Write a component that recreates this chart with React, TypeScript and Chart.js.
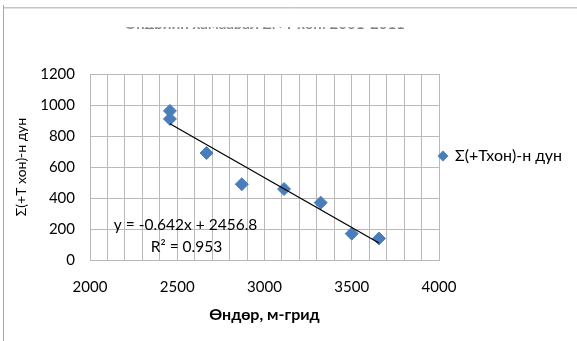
import React, { useEffect, useRef } from "react";
import { Chart, registerables } from "chart.js";

Chart.register(...registerables);

// ---- data ----
const elevation = [2458, 2458, 2668, 2870, 3112, 3322, 3500, 3656];
const sumTemp = [962, 910, 690, 489, 458, 370, 170, 139];
const xLabelTicks = [2000, 2500, 3000, 3500, 4000];
const yTickStep = 200;
const trendSlope = [-0.642];
const trendIntercept = [2456.8];
const rSquared = [0.953];
const seriesName = "Σ(+Тхон)-н дун";
const yAxisTitle = "Σ(+Т хон)-н дун";
const xAxisTitle = "Өндөр, м-грид";
const chartTitle = "Өндрийн хамаарал Σ(+Т хон) 2001-2011";

const FONT = "Lato, 'Open Sans', 'Noto Sans', sans-serif";
const BLUE = "#4A7EBB";
const GRID = "#b9b9b9";

export default function App() {
  const ref = useRef<HTMLCanvasElement | null>(null);

  useEffect(() => {
    const canvas = ref.current;
    if (!canvas) return;
    const xMin = Math.min(...elevation);
    const xMax = Math.max(...elevation);
    const trendPts = [xMin, xMax].map((x) => ({ x, y: trendSlope[0] * x + trendIntercept[0] }));

    const overlay = {
      id: "overlay",
      afterDraw(chart: any) {
        const ctx = chart.ctx as CanvasRenderingContext2D;
        const area = chart.chartArea;
        ctx.save();

        // title, mostly hidden: only the very bottom of the glyphs remains visible
        ctx.fillStyle = "#000";
        ctx.font = `bold 15px ${FONT}`;
        ctx.textAlign = "center";
        ctx.textBaseline = "alphabetic";
        ctx.fillText(chartTitle, (area.left + area.right) / 2, 28.5);
        ctx.fillStyle = "#fff";
        ctx.fillRect(0, 9, 577, 18.6);
        ctx.fillRect(0, 28.5, 577, 6);

        // frame lines (edge of the Excel chart object)
        ctx.strokeStyle = "#c4c4c4";
        ctx.lineWidth = 1;
        ctx.beginPath();
        ctx.moveTo(4, 7.5);
        ctx.lineTo(577, 7.5);
        ctx.stroke();
        ctx.strokeStyle = "#e2e2e2";
        ctx.beginPath();
        ctx.moveTo(4, 8.5);
        ctx.lineTo(577, 8.5);
        ctx.stroke();
        ctx.strokeStyle = "#93a9c9";
        ctx.beginPath();
        ctx.moveTo(3.5, 5);
        ctx.lineTo(3.5, 341);
        ctx.stroke();

        // trendline equation
        ctx.fillStyle = "#000";
        ctx.font = `15.5px ${FONT}`;
        ctx.textAlign = "center";
        ctx.textBaseline = "middle";
        const eq = `y = ${trendSlope[0]}x + ${trendIntercept[0]}`;
        ctx.fillText(eq, 185.5, 225);
        ctx.fillText(`R² = ${rSquared[0]}`, 186.5, 247);

        // legend
        ctx.fillStyle = BLUE;
        const lx = 443, ly = 156, r = 5.5;
        ctx.beginPath();
        ctx.moveTo(lx, ly - r);
        ctx.lineTo(lx + r, ly);
        ctx.lineTo(lx, ly + r);
        ctx.lineTo(lx - r, ly);
        ctx.closePath();
        ctx.fill();
        ctx.fillStyle = "#000";
        ctx.textAlign = "left";
        ctx.font = `16px ${FONT}`;
        ctx.fillText(seriesName, 455, 156);
        ctx.restore();
      },
    };

    const chart = new Chart(canvas, {
      type: "scatter",
      data: {
        datasets: [
          {
            type: "line",
            label: "trend",
            data: trendPts,
            borderColor: "#000",
            borderWidth: 1.3,
            pointRadius: 0,
            fill: false,
            order: 0,
          } as any,
          {
            label: seriesName,
            data: elevation.map((x, i) => ({ x, y: sumTemp[i] })),
            backgroundColor: BLUE,
            borderColor: BLUE,
            pointStyle: "rectRot",
            pointRadius: 6.5,
            order: 1,
          },
        ],
      },
      options: {
        animation: false,
        responsive: false,
        devicePixelRatio: 1,
        layout: { padding: { left: 0, top: 74, right: 138, bottom: 0 } },
        plugins: { legend: { display: false }, tooltip: { enabled: false }, title: { display: false } },
        scales: {
          x: {
            type: "linear",
            min: 2000,
            max: 4000,
            afterFit: (s: any) => { s.height = 81; },
            afterBuildTicks: (s: any) => {
              const t = [];
              for (let v = 2000; v <= 4000; v += 100) t.push({ value: v });
              s.ticks = t;
            },
            ticks: {
              autoSkip: false,
              maxRotation: 0,
              padding: 18.5,
              color: "#000",
              font: { family: FONT, size: 15 },
              callback: (v: any) => (xLabelTicks.includes(Number(v)) ? String(v) : ""),
            },
            grid: { color: GRID, drawTicks: false, lineWidth: 1 },
            border: { color: GRID },
            title: {
              display: true,
              text: xAxisTitle,
              color: "#000",
              font: { family: FONT, size: 16, weight: "bold" },
              padding: { top: 0, bottom: 16.5 },
            },
          },
          y: {
            type: "linear",
            min: 0,
            max: 1200,
            afterFit: (s: any) => { s.width = 90; },
            ticks: {
              stepSize: yTickStep,
              padding: 15,
              color: "#000",
              font: { family: FONT, size: 15 },
              callback: (v: any) => String(v),
            },
            grid: { color: GRID, drawTicks: false },
            border: { color: GRID },
            title: {
              display: true,
              text: yAxisTitle,
              color: "#000",
              font: { family: FONT, size: 14 },
              padding: { top: 13.5, bottom: 0 },
            },
          },
        },
      },
      plugins: [overlay],
    } as any);
    return () => chart.destroy();
  }, []);

  return (
    <div style={{ position: "fixed", left: 0, top: 0, width: 577, height: 341, background: "#fff" }}>
      <canvas ref={ref} width={577} height={341} style={{ width: 577, height: 341, display: "block" }} />
    </div>
  );
}
